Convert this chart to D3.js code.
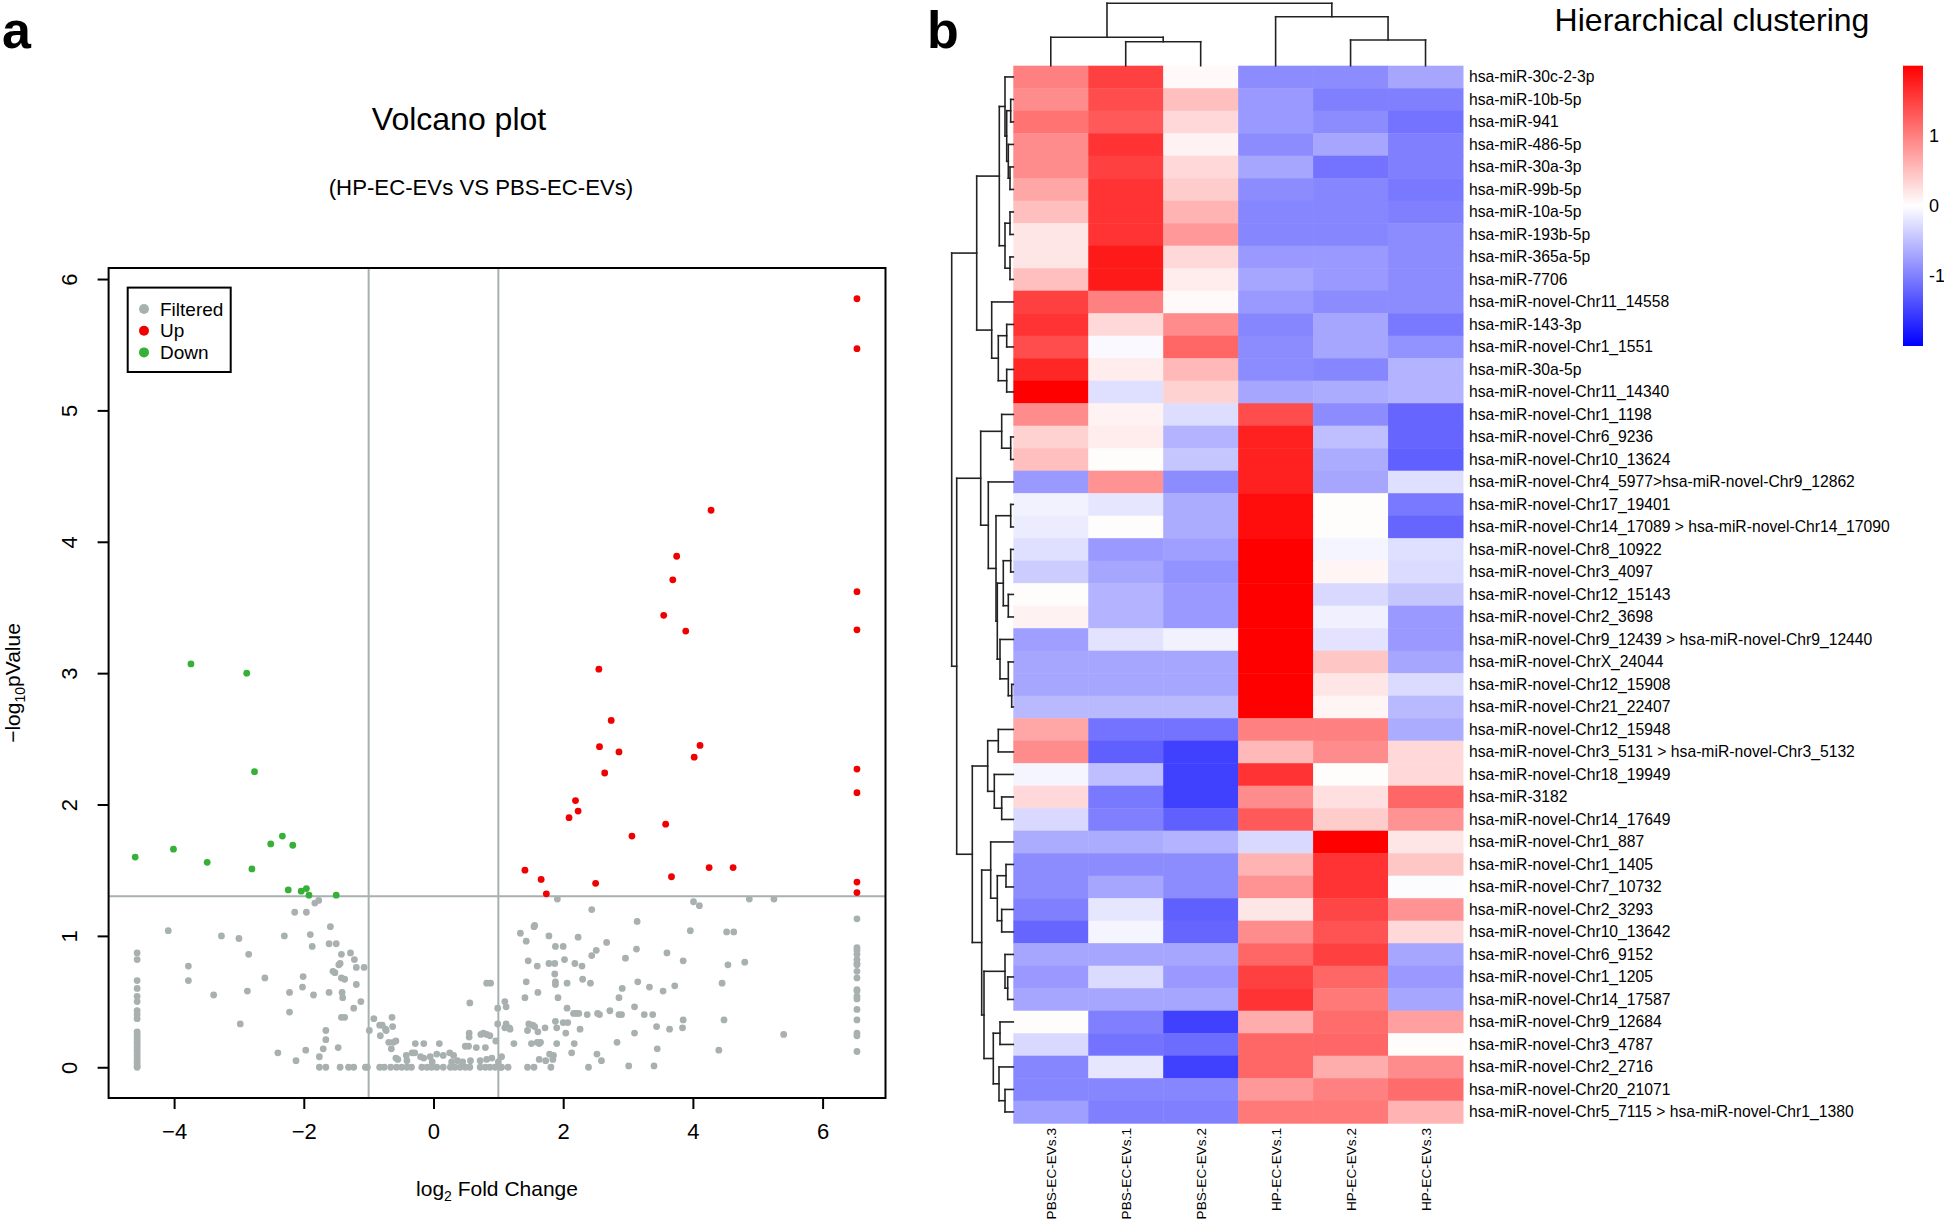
<!DOCTYPE html>
<html><head><meta charset="utf-8">
<script src="https://cdn.jsdelivr.net/npm/d3@7"></script>
<style>
body{margin:0;background:#fff}
svg{display:block}
text{font-family:"Liberation Sans",Arial,Helvetica,sans-serif;fill:#000}
</style>
</head><body>
<svg id="chart" width="1944" height="1222"></svg>
<script>
// ---------------- Volcano data ----------------
const upPoints = [[6.53,5.85],[6.53,5.47],[4.28,4.24],[3.75,3.89],[3.69,3.71],[3.55,3.44],[6.53,3.62],[6.53,3.33],[3.89,3.32],[2.55,3.03],[2.74,2.64],[2.56,2.44],[2.86,2.40],[4.11,2.45],[4.02,2.36],[2.64,2.24],[6.53,2.27],[6.53,2.09],[2.19,2.03],[2.23,1.95],[2.09,1.90],[3.58,1.85],[3.06,1.76],[1.41,1.50],[1.66,1.43],[2.50,1.40],[3.67,1.45],[4.25,1.52],[4.62,1.52],[6.53,1.41],[6.53,1.33],[1.74,1.32]];
const downPoints = [[-4.60,1.60],[-4.01,1.66],[-3.74,3.07],[-3.49,1.56],[-2.88,3.00],[-2.80,1.51],[-2.76,2.25],[-2.51,1.70],[-2.33,1.76],[-2.17,1.69],[-2.24,1.35],[-2.04,1.34],[-1.96,1.36],[-1.92,1.31],[-1.50,1.31]];
const filteredLeftColumn = [0.87,0.82,0.66,0.60,0.54,0.50,0.43,0.40,0.37,0.27,0.25,0.23,0.21,0.19,0.17,0.15,0.13,0.11,0.09,0.07,0.05,0.03,0.01,0.00];
const filteredRightColumn = [1.13,0.91,0.89,0.86,0.82,0.79,0.78,0.73,0.68,0.59,0.58,0.54,0.52,0.44,0.36,0.26,0.24,0.12];
const filteredZeroRow = [-1.76,-1.66,-1.44,-1.31,-1.23,-1.05,-1.02,-0.83,-0.76,-0.66,-0.57,-0.49,-0.41,-0.34,-0.18,-0.10,-0.03,0.05,0.15,0.26,0.33,0.41,0.49,0.56,0.72,0.80,0.87,0.95,1.03,1.05,1.15,1.45,1.55,1.81,2.39];
const filteredPoints = [
[-4.09,1.04],[-3.27,1.00],[-3.00,0.98],[-2.85,0.86],[-3.78,0.77],[-3.78,0.66],[-3.39,0.55],[-2.87,0.58],[-2.60,0.68],[-2.98,0.33],[-2.40,0.11],[-2.12,0.05],[-2.30,1.00],[-2.14,1.18],[-1.96,1.18],[-1.83,1.25],[-1.77,1.27],[-1.90,1.01],[-1.87,0.92],[-2.01,0.69],[-2.02,0.61],[-2.22,0.57],[-2.22,0.42],[-1.85,0.55],[-1.97,0.13],[-1.59,1.07],[-1.61,0.94],[-1.50,0.94],[-1.42,0.86],[-1.28,0.87],[-1.22,0.82],[-1.44,0.79],[-1.46,0.78],[-1.19,0.76],[-1.07,0.76],[-1.55,0.73],[-1.52,0.72],[-1.42,0.68],[-1.37,0.67],[-1.19,0.63],[-1.61,0.57],[-1.41,0.57],[-1.40,0.53],[-1.12,0.50],[-1.23,0.45],[-1.42,0.38],[-1.37,0.38],[-1.66,0.28],[-1.66,0.21],[-1.70,0.14],[-1.47,0.15],[-1.76,0.08],
[-0.99,0.28],[-0.92,0.37],[-0.83,0.32],[-0.79,0.32],[-0.74,0.29],[-0.73,0.28],[-0.64,0.38],[-0.63,0.31],[-0.82,0.24],[-0.69,0.19],[-0.62,0.19],[-0.58,0.20],[-0.65,0.14],[-0.58,0.07],[-0.55,0.06],[-0.42,0.09],[-0.41,0.05],[-0.33,0.11],[-0.29,0.11],[-0.28,0.18],[-0.15,0.18],[0.09,0.18],[-0.20,0.08],[-0.15,0.07],[-0.05,0.08],[-0.02,0.04],[0.05,0.10],[0.15,0.09],[0.25,0.11],[0.31,0.09],[0.28,0.04],[0.37,0.05],[0.45,0.04],[0.57,0.05],[0.49,0.16],[0.54,0.16],[0.55,0.26],[0.55,0.23],[0.66,0.15],[0.73,0.25],[0.77,0.26],[0.82,0.25],[0.87,0.24],[0.80,0.15],[0.96,0.20],[0.56,0.49],[0.82,0.64],[0.88,0.64],[0.99,0.45],[0.99,0.33],[0.72,0.05],[0.82,0.06],[0.90,0.07],[1.00,0.04],
[1.91,1.28],[2.44,1.20],[3.14,1.11],[4.01,1.26],[4.10,1.23],[4.87,1.28],[5.25,1.28],[1.34,1.02],[1.43,0.96],[1.56,1.08],[1.55,1.07],[1.78,1.00],[2.23,0.99],[2.67,0.95],[2.51,0.89],[2.44,0.85],[3.13,0.90],[1.88,0.92],[2.00,0.92],[1.46,0.81],[1.60,0.77],[1.78,0.79],[1.87,0.79],[2.02,0.82],[2.18,0.79],[2.29,0.77],[1.87,0.71],[2.30,0.67],[2.42,0.64],[1.88,0.65],[1.88,0.63],[2.06,0.64],[1.43,0.65],[1.61,0.57],[1.41,0.53],[1.92,0.53],[2.06,0.45],[2.16,0.41],[2.20,0.41],[2.24,0.41],[2.37,0.40],[2.53,0.41],[2.56,0.40],[2.72,0.43],[2.86,0.53],[2.91,0.60],[2.96,0.83],[3.15,0.65],[3.33,0.61],[3.54,0.58],[3.72,0.62],[3.60,0.87],[3.85,0.81],[3.96,1.04],[4.52,1.03],[4.63,1.03],[4.54,0.78],[4.80,0.80],[4.45,0.64],[4.48,0.36],[4.40,0.13],[5.40,0.25],[3.85,0.36],[3.84,0.30],[3.64,0.29],[3.44,0.31],[3.45,0.14],[3.25,0.40],[3.38,0.40],[3.10,0.46],[3.10,0.26],[2.86,0.40],[2.90,0.40],[2.83,0.19],[3.01,0.01],[3.40,0.01],[2.52,0.10],[2.59,0.05],[2.26,0.29],[2.17,0.18],[2.13,0.11],[2.04,0.26],[2.00,0.34],[2.07,0.34],[1.88,0.35],[1.90,0.30],[1.72,0.30],[1.47,0.33],[1.53,0.32],[1.56,0.31],[1.45,0.28],[1.61,0.27],[1.51,0.18],[1.60,0.19],[1.63,0.18],[1.65,0.19],[1.79,0.10],[1.85,0.09],[1.84,0.06],[1.73,0.05],[1.63,0.06],[1.90,0.18],[1.24,0.18],[1.05,0.08],[1.10,0.30],[1.12,0.33],[1.17,0.30],[1.18,0.29],[1.10,0.50],[1.12,0.46]
];
const xTicks = [-4,-2,0,2,4,6];
const yTicks = [0,1,2,3,4,5,6];
const fcCutoffs = [-1, 1];
const pCutoff = 1.301;
const legendItems = [["Filtered","#a9b0b0"],["Up","#f00000"],["Down","#36b036"]];

// ---------------- Heatmap data ----------------
const colLabels = ["PBS-EC-EVs.3","PBS-EC-EVs.1","PBS-EC-EVs.2","HP-EC-EVs.1","HP-EC-EVs.2","HP-EC-EVs.3"];
const rowLabels = ["hsa-miR-30c-2-3p","hsa-miR-10b-5p","hsa-miR-941","hsa-miR-486-5p","hsa-miR-30a-3p","hsa-miR-99b-5p","hsa-miR-10a-5p","hsa-miR-193b-5p","hsa-miR-365a-5p","hsa-miR-7706","hsa-miR-novel-Chr11_14558","hsa-miR-143-3p","hsa-miR-novel-Chr1_1551","hsa-miR-30a-5p","hsa-miR-novel-Chr11_14340","hsa-miR-novel-Chr1_1198","hsa-miR-novel-Chr6_9236","hsa-miR-novel-Chr10_13624","hsa-miR-novel-Chr4_5977>hsa-miR-novel-Chr9_12862","hsa-miR-novel-Chr17_19401","hsa-miR-novel-Chr14_17089 > hsa-miR-novel-Chr14_17090","hsa-miR-novel-Chr8_10922","hsa-miR-novel-Chr3_4097","hsa-miR-novel-Chr12_15143","hsa-miR-novel-Chr2_3698","hsa-miR-novel-Chr9_12439 > hsa-miR-novel-Chr9_12440","hsa-miR-novel-ChrX_24044","hsa-miR-novel-Chr12_15908","hsa-miR-novel-Chr21_22407","hsa-miR-novel-Chr12_15948","hsa-miR-novel-Chr3_5131 > hsa-miR-novel-Chr3_5132","hsa-miR-novel-Chr18_19949","hsa-miR-3182","hsa-miR-novel-Chr14_17649","hsa-miR-novel-Chr1_887","hsa-miR-novel-Chr1_1405","hsa-miR-novel-Chr7_10732","hsa-miR-novel-Chr2_3293","hsa-miR-novel-Chr10_13642","hsa-miR-novel-Chr6_9152","hsa-miR-novel-Chr1_1205","hsa-miR-novel-Chr14_17587","hsa-miR-novel-Chr9_12684","hsa-miR-novel-Chr3_4787","hsa-miR-novel-Chr2_2716","hsa-miR-novel-Chr20_21071","hsa-miR-novel-Chr5_7115 > hsa-miR-novel-Chr1_1380"];
const zScores = [
[1.0,1.5,0.05,-0.9,-0.9,-0.7],[0.9,1.4,0.5,-0.8,-1.0,-1.0],[1.1,1.3,0.3,-0.8,-0.9,-1.1],[0.9,1.6,0.1,-0.9,-0.7,-1.0],[0.9,1.5,0.3,-0.7,-1.1,-1.0],
[0.7,1.6,0.4,-0.9,-0.95,-1.05],[0.5,1.6,0.6,-0.95,-0.95,-1.0],[0.2,1.6,0.8,-0.95,-0.95,-0.9],[0.2,1.8,0.3,-0.8,-0.8,-0.9],[0.5,1.8,0.15,-0.7,-0.8,-0.9],
[1.5,1.0,0.05,-0.8,-0.9,-0.9],[1.6,0.3,0.9,-0.95,-0.7,-1.05],[1.4,-0.05,1.2,-0.9,-0.7,-0.85],[1.7,0.15,0.55,-0.9,-0.95,-0.6],[2.0,-0.25,0.35,-0.7,-0.65,-0.6],
[0.9,0.1,-0.27,1.4,-0.9,-1.2],[0.35,0.15,-0.6,1.75,-0.5,-1.2],[0.5,0.02,-0.45,1.75,-0.65,-1.25],[-0.8,0.85,-0.9,1.75,-0.7,-0.25],[-0.1,-0.2,-0.65,1.9,0.02,-1.05],
[-0.15,0.02,-0.65,1.9,0.02,-1.2],[-0.25,-0.8,-0.75,2.0,-0.08,-0.25],[-0.4,-0.7,-0.85,2.0,0.08,-0.28],[0.02,-0.6,-0.8,2.0,-0.3,-0.45],[0.1,-0.6,-0.8,2.0,-0.12,-0.8],
[-0.75,-0.22,-0.1,2.0,-0.22,-0.8],[-0.7,-0.7,-0.7,2.0,0.45,-0.7],[-0.7,-0.7,-0.7,2.0,0.2,-0.28],[-0.55,-0.55,-0.55,2.0,0.08,-0.55],[0.7,-1.1,-1.1,1.0,1.0,-0.65],
[0.9,-1.25,-1.5,0.55,0.9,0.3],[-0.08,-0.5,-1.5,1.6,0.02,0.3],[0.3,-1.05,-1.5,0.9,0.25,1.2],[-0.3,-1.0,-1.25,1.3,0.4,0.85],[-0.65,-0.65,-0.6,-0.3,2.0,0.2],
[-0.9,-0.9,-0.9,0.6,1.6,0.45],[-0.9,-0.7,-0.9,0.85,1.6,-0.02],[-1.0,-0.2,-1.25,0.2,1.45,0.85],[-1.2,-0.08,-1.2,0.9,1.35,0.3],[-0.7,-0.7,-0.7,1.2,1.5,-0.7],
[-0.8,-0.28,-0.8,1.5,1.2,-0.8],[-0.7,-0.7,-0.7,1.6,1.05,-0.7],[0.02,-1.0,-1.5,0.65,1.15,0.75],[-0.3,-1.1,-1.15,1.2,1.2,0.02],[-0.95,-0.2,-1.5,1.2,0.65,0.9],
[-0.95,-0.95,-0.95,0.8,1.0,1.15],[-0.75,-1.0,-1.0,1.05,1.05,0.6]
];
// hclust-style merges: [childA, childB, height]; negative = leaf (1-based display order)
const rowMerge = [
[-2,-3,2.6],[-5,-6,3.3],[-4,2,5.0],[1,3,6.6],[-1,4,8.3],[-7,-8,3.3],[-9,-10,3.3],[6,7,8.3],[5,8,14.0],
[-12,-13,6.6],[-14,-15,6.6],[10,11,15.0],[-11,12,21.6],[9,13,36.6],
[-17,-18,2.6],[-16,15,11.6],[-20,-21,2.6],[-22,-23,2.6],[-24,-25,5.0],[18,19,10.0],[-28,-29,1.6],[-27,21,5.0],[-26,22,13.3],[20,23,16.0],[17,24,17.3],[-19,25,25.0],[16,26,32.6],
[-30,-31,15.0],[-33,-34,11.6],[-32,29,19.0],[28,30,25.6],[-36,-37,7.3],[-38,-39,11.6],[32,33,16.0],[-35,34,22.6],[-41,-42,5.6],[-40,36,8.3],[-43,-44,13.3],[-46,-47,8.3],[-45,39,14.3],[38,40,20.0],[37,41,29.3],[35,42,31.6],[31,43,41.0],
[27,44,56.6],[14,45,61.6]
];
const colMerge = [[-2,-3,24.0],[-1,1,28.4],[-5,-6,25.7],[-4,3,49.0],[2,4,62.4]];
const legendTicks = [-1,0,1];

// ---------------- Drawing ----------------
const svg = d3.select("#chart");
const minus = d => d < 0 ? "\u2212" + Math.abs(d) : String(d);

// Panel labels
svg.append("text").attr("x",2).attr("y",48).attr("font-size",52).attr("font-weight","bold").text("a");
svg.append("text").attr("x",927).attr("y",48).attr("font-size",52).attr("font-weight","bold").text("b");

// ---- Volcano ----
const x = d3.scaleLinear().domain([-5.01,6.97]).range([108.6,885.5]);
const y = d3.scaleLinear().domain([-0.234,6.084]).range([1098,268]);
const gV = svg.append("g");

gV.append("text").attr("x",459).attr("y",130).attr("text-anchor","middle").attr("font-size",32).text("Volcano plot");
gV.append("text").attr("x",481).attr("y",195).attr("text-anchor","middle").attr("font-size",22.2).text("(HP-EC-EVs VS PBS-EC-EVs)");

// reference lines
fcCutoffs.forEach(v => gV.append("line").attr("x1",x(v)).attr("x2",x(v)).attr("y1",y.range()[1]).attr("y2",y.range()[0]).attr("stroke","#a9b0b0").attr("stroke-width",2));
gV.append("line").attr("x1",x.range()[0]).attr("x2",x.range()[1]).attr("y1",y(pCutoff)).attr("y2",y(pCutoff)).attr("stroke","#a9b0b0").attr("stroke-width",2);

const grayAll = filteredPoints
  .concat(filteredLeftColumn.map(v => [-4.57, v]))
  .concat(filteredRightColumn.map(v => [6.53, v]))
  .concat(filteredZeroRow.map(v => [v, 0]));
const dotR = 3.4;
gV.append("g").selectAll("circle").data(grayAll).join("circle")
  .attr("cx",d=>x(d[0])).attr("cy",d=>y(d[1])).attr("r",dotR).attr("fill","#a9b0b0");
gV.append("g").selectAll("circle").data(upPoints).join("circle")
  .attr("cx",d=>x(d[0])).attr("cy",d=>y(d[1])).attr("r",dotR).attr("fill","#f00000");
gV.append("g").selectAll("circle").data(downPoints).join("circle")
  .attr("cx",d=>x(d[0])).attr("cy",d=>y(d[1])).attr("r",dotR).attr("fill","#36b036");

// box
gV.append("rect").attr("x",x.range()[0]).attr("y",y.range()[1]).attr("width",x.range()[1]-x.range()[0]).attr("height",y.range()[0]-y.range()[1])
  .attr("fill","none").attr("stroke","#000").attr("stroke-width",2);

// axes
const xAx = gV.append("g").attr("transform",`translate(0,${y.range()[0]})`)
  .call(d3.axisBottom(x).tickValues(xTicks).tickSize(11).tickPadding(14).tickFormat(minus));
xAx.select(".domain").remove();
xAx.selectAll("line").attr("stroke","#000").attr("stroke-width",2);
xAx.selectAll("text").attr("font-size",22).attr("font-family","Liberation Sans, Arial, sans-serif");

const yAx = gV.append("g").attr("transform",`translate(${x.range()[0]},0)`)
  .call(d3.axisLeft(y).tickValues(yTicks).tickSize(11).tickFormat(minus));
yAx.select(".domain").remove();
yAx.selectAll("line").attr("stroke","#000").attr("stroke-width",2);
yAx.selectAll("text").attr("font-size",22).attr("font-family","Liberation Sans, Arial, sans-serif")
  .attr("x",null).attr("dy",null).attr("text-anchor","middle")
  .attr("transform","translate(-32,0) rotate(-90)");

// axis titles
const xl = gV.append("text").attr("x",497).attr("y",1196).attr("text-anchor","middle").attr("font-size",21);
xl.append("tspan").text("log");
xl.append("tspan").attr("font-size",14).attr("dy",5).text("2");
xl.append("tspan").attr("dy",-5).text(" Fold Change");
const yl = gV.append("text").attr("transform","translate(20,683) rotate(-90)").attr("text-anchor","middle").attr("font-size",21);
yl.append("tspan").text("\u2212log");
yl.append("tspan").attr("font-size",14).attr("dy",5).text("10");
yl.append("tspan").attr("dy",-5).text("pValue");

// legend
const lg = gV.append("g");
lg.append("rect").attr("x",127.7).attr("y",287.6).attr("width",103).attr("height",84.4).attr("fill","#fff").attr("stroke","#000").attr("stroke-width",2);
legendItems.forEach((d,i) => {
  const yy = 309 + i*21.7;
  lg.append("circle").attr("cx",144).attr("cy",yy).attr("r",5).attr("fill",d[1]);
  lg.append("text").attr("x",160).attr("y",yy).attr("dy","0.35em").attr("font-size",19).text(d[0]);
});

// ---- Heatmap ----
const hx = d3.scaleBand().domain(colLabels).range([1013.3,1463]);
const hy = d3.scaleBand().domain(rowLabels).range([65.7,1123.2]);
const color = d3.scaleLinear().domain([-2,0,2]).range(["#0000ff","#ffffff","#ff0000"]).clamp(true);
const gH = svg.append("g");
const cells = [];
zScores.forEach((row,i) => row.forEach((v,j) => cells.push({r:rowLabels[i], c:colLabels[j], v})));
gH.append("g").selectAll("rect").data(cells).join("rect")
  .attr("x",d=>hx(d.c)).attr("y",d=>hy(d.r)).attr("width",hx.bandwidth()+0.5).attr("height",hy.bandwidth()+0.5)
  .attr("fill",d=>color(d.v));

gH.append("g").selectAll("text").data(rowLabels).join("text")
  .attr("x",1469).attr("y",d=>hy(d)+hy.bandwidth()/2).attr("dy","0.35em").attr("font-size",15.7).text(d=>d);

gH.append("g").selectAll("text").data(colLabels).join("text")
  .attr("transform",d=>`translate(${hx(d)+hx.bandwidth()/2+5},1128) rotate(-90)`)
  .attr("text-anchor","end").attr("font-size",13.6).text(d=>d);

gH.append("text").attr("x",1712).attr("y",31).attr("text-anchor","middle").attr("font-size",32).text("Hierarchical clustering");

// dendrograms
function dendroSegments(merge, leafPos){
  const nodes = [];
  const get = k => k < 0 ? {pos:leafPos(-k), h:0} : nodes[k-1];
  const segs = [];
  merge.forEach(([a,b,h]) => {
    const A = get(a), B = get(b);
    segs.push([A.pos,A.h,A.pos,h]);
    segs.push([B.pos,B.h,B.pos,h]);
    segs.push([A.pos,h,B.pos,h]);
    nodes.push({pos:(A.pos+B.pos)/2, h});
  });
  return segs;
}
const rowH = d3.scaleLinear().domain([0,61.6]).range([1013.3,951.7]);
const rowSegs = dendroSegments(rowMerge, i => hy(rowLabels[i-1]) + hy.bandwidth()/2);
gH.append("g").selectAll("line").data(rowSegs).join("line")
  .attr("x1",d=>rowH(d[1])).attr("y1",d=>d[0]).attr("x2",d=>rowH(d[3])).attr("y2",d=>d[2])
  .attr("stroke","#222").attr("stroke-width",1.6).attr("stroke-linecap","square");
const colH = d3.scaleLinear().domain([0,62.4]).range([65.7,3.3]);
const colSegs = dendroSegments(colMerge, i => hx(colLabels[i-1]) + hx.bandwidth()/2);
gH.append("g").selectAll("line").data(colSegs).join("line")
  .attr("x1",d=>d[0]).attr("y1",d=>colH(d[1])).attr("x2",d=>d[2]).attr("y2",d=>colH(d[3]))
  .attr("stroke","#222").attr("stroke-width",1.6).attr("stroke-linecap","square");

// colour legend
const ly = d3.scaleLinear().domain([-2,2]).range([346,65.7]);
const defs = svg.append("defs");
const grad = defs.append("linearGradient").attr("id","cbar").attr("x1",0).attr("x2",0).attr("y1",1).attr("y2",0);
d3.range(-2,2.01,0.5).forEach(v => grad.append("stop").attr("offset",(v+2)/4).attr("stop-color",color(v)));
gH.append("rect").attr("x",1903).attr("y",ly(2)).attr("width",20).attr("height",ly(-2)-ly(2)).attr("fill","url(#cbar)");
gH.append("g").selectAll("text").data(legendTicks).join("text")
  .attr("x",1929).attr("y",d=>ly(d)).attr("dy","0.35em").attr("font-size",18).text(d=>String(d));
</script>
</body></html>
